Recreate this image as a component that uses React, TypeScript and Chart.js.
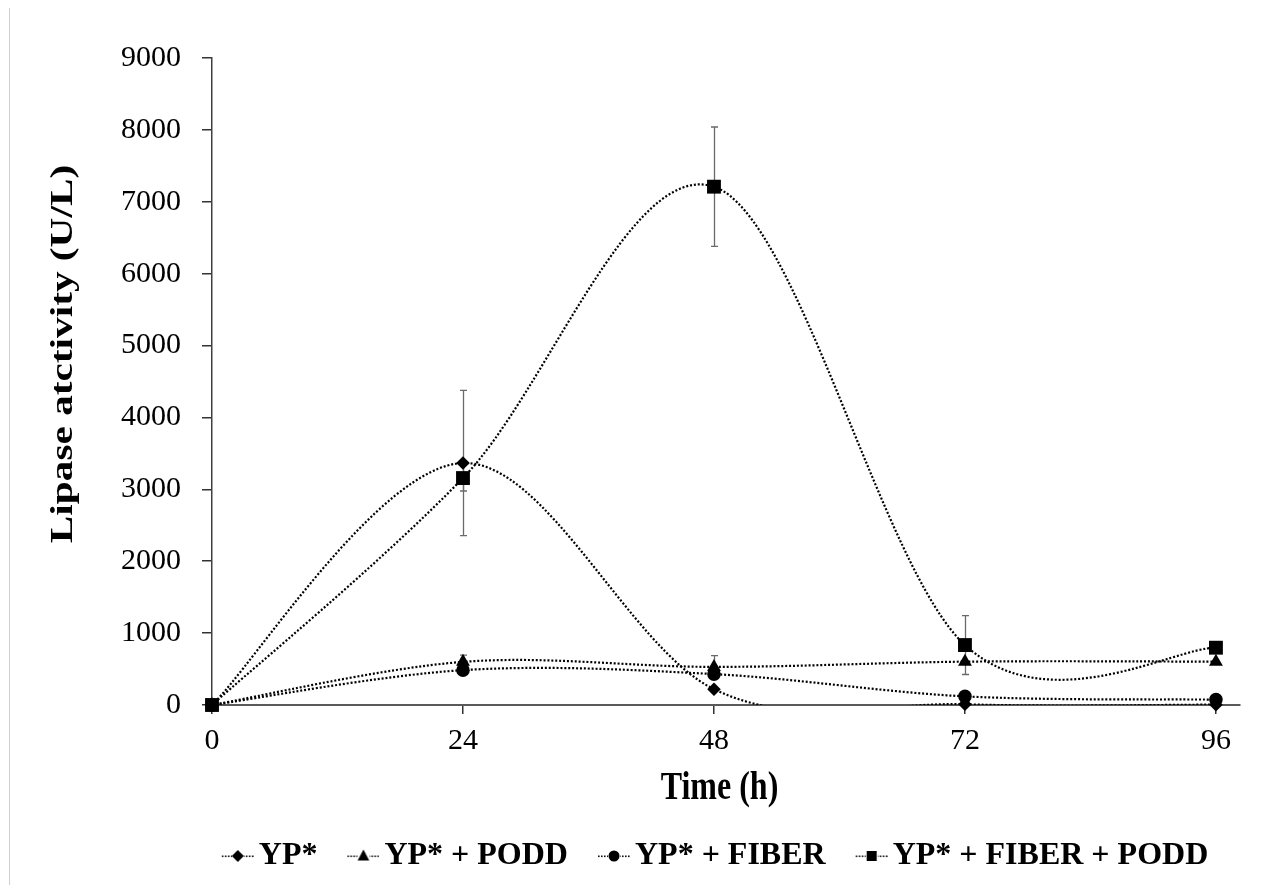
import React, { useEffect, useRef } from 'react';
import { Chart, registerables } from 'chart.js';

Chart.register(...registerables);

// ---- data ----
const times = [0, 24, 48, 72, 96];
const xTickValues = [0, 24, 48, 72, 96];
const seriesLabels = ['YP*', 'YP* + PODD', 'YP* + FIBER', 'YP* + FIBER + PODD'];

const ypValues = [0, 3366, 220, 10, 5];
const ypErrors = [0, 1010, 0, 0, 0];

const poddValues = [0, 600, 530, 603, 603];
const poddErrors = [0, 95, 157, 0, 0];

const fiberValues = [0, 485, 430, 120, 75];
const fiberErrors = [0, 0, 0, 0, 0];

const fiberPoddValues = [0, 3157, 7210, 834, 797];
const fiberPoddErrors = [0, 180, 830, 410, 0];

const xTitle = 'Time (h)';
const yTitle = 'Lipase atctivity (U/L)';

const SERIF = '"Liberation Serif", "Times New Roman", serif';

function makeLegendIcon(style: string): HTMLCanvasElement {
  const c = document.createElement('canvas');
  c.width = 43;
  c.height = 16;
  const g = c.getContext('2d')!;
  g.fillStyle = '#111';
  for (let x = 11; x < 43; x += 3) {
    g.fillRect(x, 7.5, 1.6, 1.6);
  }
  g.fillStyle = '#000';
  const cx = 27;
  const cy = 8;
  g.clearRect(cx - 6, 0, 12, 16);
  g.beginPath();
  if (style === 'rectRot') {
    g.moveTo(cx - 6, cy);
    g.lineTo(cx, cy - 6);
    g.lineTo(cx + 6, cy);
    g.lineTo(cx, cy + 6);
  } else if (style === 'triangle') {
    g.moveTo(cx, cy - 6.5);
    g.lineTo(cx + 5.8, cy + 4.5);
    g.lineTo(cx - 5.8, cy + 4.5);
  } else if (style === 'circle') {
    g.arc(cx, cy, 5.5, 0, Math.PI * 2);
  } else {
    g.rect(cx - 5, cy - 5, 10, 10);
  }
  g.closePath();
  g.fill();
  return c;
}

// Excel-like smoothing: Catmull-Rom control points on the library's own line elements
const smoothPlugin = {
  id: 'excelSmooth',
  beforeDatasetDraw(chart: any, args: any) {
    const meta = args.meta;
    const ds = chart.data.datasets[args.index];
    if (!ds || !ds.showLine || !meta.dataset) return;
    const line = meta.dataset;
    line.updateControlPoints(chart.chartArea, 'x');
    const pts = line.points;
    const n = pts.length;
    const f = 1 / 6;
    for (let i = 0; i < n; i++) {
      const p = pts[i];
      const prev = pts[Math.max(i - 1, 0)];
      const next = pts[Math.min(i + 1, n - 1)];
      const tx = (next.x - prev.x) * f;
      const ty = (next.y - prev.y) * f;
      p.cp1x = p.x - tx;
      p.cp1y = p.y - ty;
      p.cp2x = p.x + tx;
      p.cp2y = p.y + ty;
    }
    line._path = undefined;
  },
};

const errorBarPlugin = {
  id: 'errorBars',
  beforeDatasetsDraw(chart: any) {
    const ctx = chart.ctx;
    const xs = chart.scales.x;
    const ys = chart.scales.y;
    ctx.save();
    ctx.strokeStyle = '#6a6a6a';
    ctx.lineWidth = 1.3;
    chart.data.datasets.forEach((ds: any) => {
      const errs = ds.errorBars;
      if (!errs) return;
      ds.data.forEach((p: any, i: number) => {
        const e = errs[i];
        if (!e) return;
        const px = Math.round(xs.getPixelForValue(p.x)) + 0.5;
        const top = ys.getPixelForValue(p.y + e);
        const bot = ys.getPixelForValue(p.y - e);
        ctx.beginPath();
        ctx.moveTo(px, top);
        ctx.lineTo(px, bot);
        ctx.moveTo(px - 3.5, top);
        ctx.lineTo(px + 3.5, top);
        ctx.moveTo(px - 3.5, bot);
        ctx.lineTo(px + 3.5, bot);
        ctx.stroke();
      });
    });
    ctx.restore();
  },
};

const titlePlugin = {
  id: 'stretchedTitles',
  afterDraw(chart: any) {
    const ctx = chart.ctx;
    const a = chart.chartArea;
    ctx.save();
    ctx.fillStyle = '#000';
    ctx.font = 'bold 32px ' + SERIF;
    ctx.textAlign = 'center';
    ctx.textBaseline = 'middle';
    ctx.save();
    ctx.translate((a.left + a.right) / 2 - 6.5, a.bottom + 83.5);
    ctx.scale(1, 1.27);
    ctx.fillText(xTitle, 0, 0);
    ctx.restore();
    ctx.save();
    ctx.translate(a.left - 148, (a.top + a.bottom) / 2 - 27.5);
    ctx.scale(1, 1.29);
    ctx.rotate(-Math.PI / 2);
    ctx.fillText(yTitle, 0, 0);
    ctx.restore();
    ctx.restore();
  },
};

export default function App() {
  const ref = useRef<HTMLCanvasElement>(null);

  useEffect(() => {
    if (!ref.current) return;
    const markerStyles = ['rectRot', 'triangle', 'circle', 'rect'];
    const markerRadii = [6.8, 8, 6.8, 9.8];
    const valuesList = [ypValues, poddValues, fiberValues, fiberPoddValues];
    const errorsList = [ypErrors, poddErrors, fiberErrors, fiberPoddErrors];
    const toPoints = (vals: number[]) => times.map((t, i) => ({ x: t, y: vals[i] }));
    const icons = markerStyles.map((s) => makeLegendIcon(s));

    const markerSets = valuesList.map((vals, i) => ({
      label: seriesLabels[i],
      data: toPoints(vals),
      showLine: false,
      pointStyle: markerStyles[i],
      pointRadius: markerRadii[i],
      pointBackgroundColor: '#000',
      pointBorderColor: '#000',
      pointBorderWidth: 0,
      clip: false,
      order: 0,
      errorBars: errorsList[i],
    }));
    const lineSets = valuesList.map((vals, i) => ({
      label: seriesLabels[i] + ' (line)',
      data: toPoints(vals),
      showLine: true,
      borderColor: '#000',
      borderWidth: 2.2,
      borderDash: [2, 1.9],
      tension: 0.4,
      capBezierPoints: false,
      pointRadius: 0,
      fill: false,
      order: 1,
    }));

    const tickFont = { family: SERIF, size: 30 };

    const chart = new Chart(ref.current, {
      type: 'line',
      data: { datasets: [...markerSets, ...lineSets] as any },
      options: {
        animation: false,
        responsive: false,
        devicePixelRatio: 1,
        events: [],
        layout: { padding: { top: 50, left: 110, right: -44, bottom: 0 } },
        plugins: {
          tooltip: { enabled: false },
          legend: {
            display: true,
            position: 'bottom',
            fullSize: true,
            labels: {
              usePointStyle: true,
              pointStyleWidth: 21,
              padding: 30,
              color: '#000',
              font: { family: SERIF, size: 32, weight: 'bold' },
              generateLabels: () =>
                seriesLabels.map((text, i) => ({
                  text,
                  pointStyle: icons[i] as any,
                  fillStyle: '#000',
                  strokeStyle: '#000',
                  lineWidth: 0,
                  hidden: false,
                  datasetIndex: i,
                })),
            },
          },
        },
        scales: {
          x: {
            type: 'linear',
            min: 0,
            max: 98.3,
            afterBuildTicks: (s: any) => {
              s.ticks = xTickValues.map((v) => ({ value: v }));
            },
            afterFit: (s: any) => {
              s.height = 105;
            },
            grid: {
              display: true,
              drawOnChartArea: false,
              drawTicks: true,
              tickLength: 9,
              color: '#333',
              lineWidth: 1.5,
            },
            border: { display: true, color: '#5a5a5a', width: 2 },
            ticks: {
              color: '#000',
              font: tickFont,
              padding: 9.5,
              maxRotation: 0,
              autoSkip: false,
              callback: (v: any) => String(v),
            },
          },
          y: {
            type: 'linear',
            min: 0,
            max: 9000,
            afterFit: (s: any) => {
              s.width = 94;
            },
            grid: {
              display: true,
              drawOnChartArea: false,
              drawTicks: true,
              tickLength: 10,
              color: '#333',
              lineWidth: 1.5,
            },
            border: { display: true, color: '#404040', width: 1.5 },
            ticks: {
              stepSize: 1000,
              color: '#000',
              font: tickFont,
              padding: 21,
              callback: (v: any) => String(v),
            },
          },
          yRight: {
            type: 'linear',
            position: 'right',
            display: true,
            grid: { display: false },
            border: { display: false },
            ticks: { display: false },
            afterFit: (s: any) => {
              s.width = 72;
            },
          },
        },
      } as any,
      plugins: [smoothPlugin, errorBarPlugin, titlePlugin],
    });
    return () => chart.destroy();
  }, []);

  return (
    <div>
      <div
        style={{
          position: 'absolute',
          left: 9,
          top: 8,
          width: 1,
          height: 877,
          background: '#cfcfcf',
        }}
      />
      <div style={{ position: 'absolute', left: 8, top: 8, width: 1260, height: 874 }}>
        <canvas ref={ref} width={1260} height={874} style={{ display: 'block' }} />
      </div>
    </div>
  );
}
